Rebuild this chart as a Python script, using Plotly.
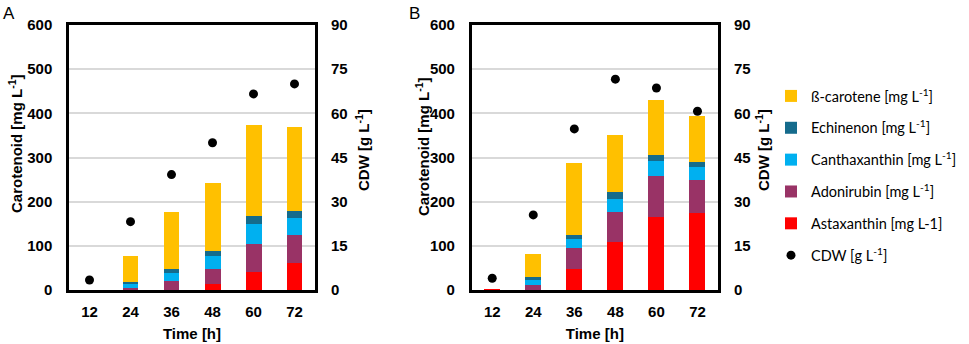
import plotly.graph_objects as go

times = ["12", "24", "36", "48", "60", "72"]

# Panel A
astax_A = [0, 0, 0.5, 13, 40, 61]
adon_A = [0, 4.5, 20, 34, 65, 64]
cantha_A = [0, 9.5, 19, 29, 44, 38]
echin_A = [0, 5, 7, 13, 18, 16]
beta_A = [0, 57, 129, 154, 206, 189]
cdw_A = [3.4, 23.2, 39.2, 50, 66.6, 70]

# Panel B
astax_B = [1.5, 0.5, 48.5, 108, 165, 175]
adon_B = [0, 10, 46.5, 69, 92, 73]
cantha_B = [0, 13, 20, 29, 35, 31]
echin_B = [0, 7, 9, 17, 13, 10]
beta_B = [0, 51, 163, 127, 125, 104]
cdw_B = [4, 25.5, 54.7, 71.6, 68.6, 60.7]

y_ticks = [0, 100, 200, 300, 400, 500, 600]
cdw_ticks = [0, 15, 30, 45, 60, 75, 90]

names = ["Astaxanthin [mg L-1]", "Adonirubin [mg L<sup>-1</sup>]",
         "Canthaxanthin [mg L<sup>-1</sup>]", "Echinenon [mg L<sup>-1</sup>]",
         "ß-carotene [mg L<sup>-1</sup>]"]
colors = ["#FF0000", "#993366", "#00B0F0", "#156B8C", "#FFC000"]
ranks = [5, 4, 3, 2, 1]

fig = go.Figure()
panels = [
    ("x", "y", "y3", [astax_A, adon_A, cantha_A, echin_A, beta_A], cdw_A, True),
    ("x2", "y2", "y4", [astax_B, adon_B, cantha_B, echin_B, beta_B], cdw_B, False),
]
for xa, ya, yc, series, cdw, show in panels:
    for name, col, vals, rk in zip(names, colors, series, ranks):
        fig.add_trace(go.Bar(x=times, y=vals, name=name, marker=dict(color=col, line=dict(width=0)),
                             xaxis=xa, yaxis=ya, showlegend=show, legendrank=rk,
                             legendgroup=name))
    fig.add_trace(go.Scatter(x=times, y=cdw, mode="markers", name="CDW [g L<sup>-1</sup>]",
                             marker=dict(color="black", size=9), xaxis=xa, yaxis=yc,
                             showlegend=show, legendrank=6, legendgroup="cdw"))

tickfont = dict(family="Liberation Sans", size=15, color="black", weight="bold")
titlefont = dict(family="Liberation Sans", size=15, color="black", weight="bold")

dA = [0, 246 / 649]
dB = [(471.7 - 69) / 649, 1]

common_x = dict(type="category", showline=True, linewidth=2.5, linecolor="black", mirror=True,
                showgrid=False, tickfont=tickfont, ticklabelstandoff=6, ticks="", automargin=False,
                title=dict(text="Time [h]", font=titlefont, standoff=10))
common_y = dict(range=[0, 600], tickvals=y_ticks, showline=True, linewidth=2.5, linecolor="black",
                mirror=True, showgrid=True, gridcolor="#D9D9D9", gridwidth=2, tickfont=tickfont,
                ticklabelstandoff=11, ticks="", zeroline=False, automargin=False)
common_c = dict(range=[0, 90], tickvals=cdw_ticks, side="right", showgrid=False, showline=False,
                tickfont=tickfont, ticklabelstandoff=15, ticks="", zeroline=False, automargin=False)

W, H = 649, 265
def px(xp):
    return (xp - 69) / W
def py(yp):
    return (290 - yp) / H

def vtitle(text, xp, yp):
    return dict(text=text, x=px(xp), y=py(yp), xref="paper", yref="paper", textangle=-90,
                xanchor="center", yanchor="middle", showarrow=False, font=titlefont)

fig.update_layout(
    width=969, height=344,
    margin=dict(l=69, r=251, t=25, b=54, autoexpand=False),
    paper_bgcolor="white", plot_bgcolor="white",
    barmode="stack", bargap=0.61,
    xaxis=dict(domain=dA, anchor="y", **common_x),
    xaxis2=dict(domain=dB, anchor="y2", **common_x),
    yaxis=dict(anchor="x", **common_y),
    yaxis2=dict(anchor="x2", **common_y),
    yaxis3=dict(anchor="x", overlaying="y", **common_c),
    yaxis4=dict(anchor="x2", overlaying="y2", **common_c),
    legend=dict(xref="paper", yref="paper", x=px(771), y=py(80),
                xanchor="left", yanchor="top", traceorder="grouped", tracegroupgap=10,
                font=dict(family="Lato", size=14.5, color="black"), bgcolor="rgba(0,0,0,0)"),
    annotations=[
        dict(text="A", x=px(9), y=py(13), xref="paper", yref="paper",
             xanchor="center", yanchor="middle", showarrow=False,
             font=dict(family="Liberation Sans", size=17, color="black")),
        dict(text="B", x=px(414), y=py(13), xref="paper", yref="paper",
             xanchor="center", yanchor="middle", showarrow=False,
             font=dict(family="Liberation Sans", size=17, color="black")),
        vtitle("Carotenoid [mg L<sup>-1</sup>]", 15, 144),
        vtitle("CDW [g L<sup>-1</sup>]", 362, 150),
        vtitle("Carotenoid [mg L<sup>-1</sup>]", 422, 147),
        vtitle("CDW [g L<sup>-1</sup>]", 762, 150),
    ],
)

fig.write_html("out.html", config={"displayModeBar": False},
               post_script="document.body.style.margin='0';document.body.style.overflow='hidden';")
